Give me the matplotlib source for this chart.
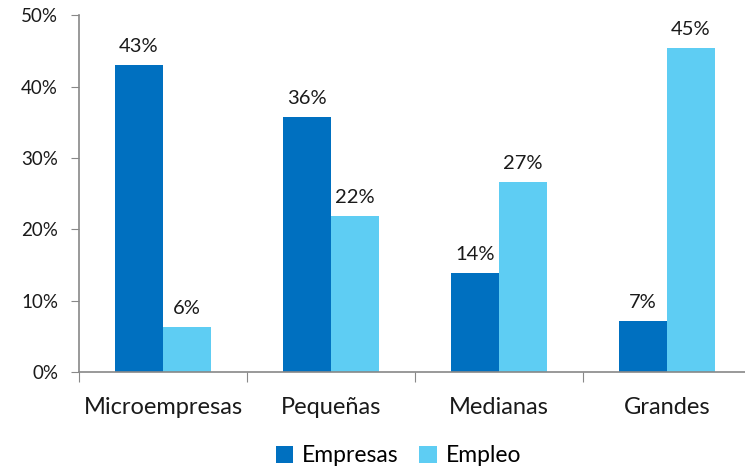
import numpy as np
import matplotlib.pyplot as plt
from matplotlib.ticker import FuncFormatter, FixedLocator

# datos
categorias = ['Microempresas', 'Pequeñas', 'Medianas', 'Grandes']
empresas = [43.0, 35.8, 13.9, 7.2]
empleo = [6.3, 21.9, 26.6, 45.4]
etiquetas_empresas = ['43%', '36%', '14%', '7%']
etiquetas_empleo = ['6%', '22%', '27%', '45%']

plt.rcParams['font.family'] = ['Lato', 'DejaVu Sans']

fig = plt.figure(figsize=(7.45, 4.75), dpi=100)
ax = fig.add_axes([0.106, 0.217, 0.902, 0.751])

x = np.arange(len(categorias))
ancho = 0.286

b1 = ax.bar(x - ancho / 2, empresas, ancho, color='#0070C0', label='Empresas')
b2 = ax.bar(x + ancho / 2, empleo, ancho, color='#5ECDF3', label='Empleo')

for barras, etiquetas in [(b1, etiquetas_empresas), (b2, etiquetas_empleo)]:
    for barra, texto in zip(barras, etiquetas):
        ax.annotate(texto, (barra.get_x() + barra.get_width() / 2, barra.get_height()),
                    xytext=(0, 7), textcoords='offset points',
                    ha='center', va='bottom', fontsize=14.5, color='#1a1a1a')

ax.set_xlim(-0.5, 3.5)
ax.set_ylim(0, 50)
ax.set_yticks([0, 10, 20, 30, 40, 50])
ax.yaxis.set_major_formatter(FuncFormatter(lambda v, p: f'{v:.0f}%'))
ax.tick_params(axis='y', labelsize=13.5, length=6, color='#888888', labelcolor='#1a1a1a', pad=9)

# ticks mayores en las separaciones, etiquetas en los centros
ax.xaxis.set_major_locator(FixedLocator([-0.5, 0.5, 1.5, 2.5, 3.5]))
ax.xaxis.set_minor_locator(FixedLocator(x))
ax.set_xticklabels([])
ax.set_xticklabels(categorias, minor=True)
ax.tick_params(axis='x', which='major', length=7, color='#888888')
ax.tick_params(axis='x', which='minor', length=0, labelsize=17, labelcolor='#1a1a1a', pad=18)

for lado in ['top', 'right']:
    ax.spines[lado].set_visible(False)
for lado in ['left', 'bottom']:
    ax.spines[lado].set_color('#888888')
    ax.spines[lado].set_linewidth(1.2)

fig.legend(handles=[b1, b2], loc='lower center', bbox_to_anchor=(0.535, -0.025), ncol=2,
           frameon=False, fontsize=16.5, handlelength=0.75, handleheight=0.75,
           handletextpad=0.4, columnspacing=0.9)

fig.savefig('out.png', dpi=100)
